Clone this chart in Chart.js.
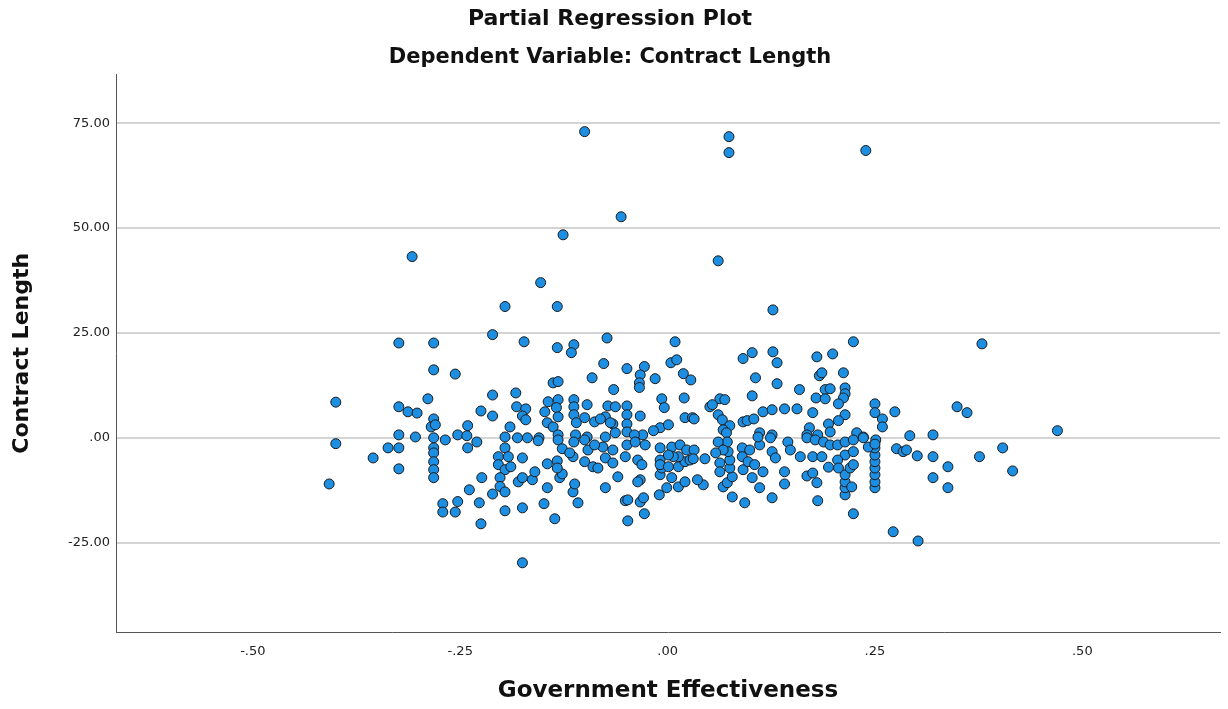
<!DOCTYPE html>
<html>
<head>
<meta charset="utf-8">
<script src="https://cdn.jsdelivr.net/npm/chart.js@4.4.1/dist/chart.umd.min.js"></script>
<style>
  body { margin: 0; background: #fff; }
  #wrap { width: 1228px; height: 709px; }
</style>
</head>
<body>
<div id="wrap"><canvas id="myChart" width="1228" height="709"></canvas></div>
<script>
// Government Effectiveness (x residual)
var govEff = [
  // left block
  -0.196,-0.211,-0.324,-0.282,-0.282,-0.256,-0.400,-0.324,-0.313,-0.302,
  -0.289,-0.211,-0.225,-0.211,-0.282,-0.285,-0.280,-0.241,-0.253,-0.242,
  -0.324,-0.304,-0.282,-0.268,-0.196,-0.190,-0.400,-0.337,-0.324,-0.355,
  -0.324,-0.408,-0.282,-0.282,-0.282,-0.282,-0.282,-0.230,-0.241,-0.196,
  -0.204,-0.192,-0.204,-0.196,-0.224,-0.202,-0.202,-0.196,-0.211,-0.239,
  -0.253,-0.227,-0.271,-0.271,-0.256,-0.196,-0.225,
  // middle, upper
  -0.133,-0.173,-0.133,-0.113,-0.116,-0.073,0.009,-0.077,-0.049,-0.028,
  -0.033,-0.034,-0.034,-0.015,0.004,0.011,0.019,0.028,-0.091,-0.138,
  -0.132,-0.065,-0.183,-0.007,0.020,-0.004,0.021,0.030,-0.033,-0.144,
  -0.132,-0.113,-0.113,-0.097,-0.182,-0.171,-0.134,-0.072,-0.063,-0.049,
  -0.049,-0.148,-0.175,-0.132,-0.113,-0.100,-0.088,-0.075,-0.081,-0.171,
  -0.145,-0.138,-0.110,-0.066,-0.069,-0.049,-0.049,-0.009,-0.017,0.001,
  -0.030,-0.040,-0.155,-0.132,-0.111,-0.097,-0.075,-0.063,
  // middle, lower
  -0.175,-0.136,-0.175,-0.149,-0.108,-0.114,-0.112,-0.145,-0.180,-0.175,
  -0.163,-0.160,-0.130,-0.127,-0.145,-0.133,-0.133,-0.175,-0.189,-0.156,
  -0.181,-0.169,-0.132,-0.127,-0.114,-0.118,-0.113,-0.100,-0.096,-0.100,
  -0.090,-0.084,-0.075,-0.066,-0.078,-0.088,-0.075,-0.060,-0.066,-0.051,
  -0.049,-0.039,-0.027,-0.036,-0.031,-0.033,-0.036,-0.051,-0.048,-0.033,
  -0.029,-0.048,-0.028,-0.010,-0.001,0.013,0.021,0.005,-0.009,-0.007,
  -0.009,-0.009,-0.009,0.001,0.013,0.021,0.027,0.005,0.015,0.023,
  0.013,0.007,0.001,
  // outliers
  -0.100,-0.056,-0.126,-0.308,-0.153,0.074,0.074,0.239,0.061,0.127,
  // right, upper
  0.224,0.091,0.102,0.127,0.132,0.180,0.199,0.183,0.186,0.212,
  0.106,0.132,0.159,0.190,0.196,0.214,0.214,0.212,0.179,0.190,
  0.102,0.063,0.069,0.051,0.054,0.115,0.126,0.141,0.156,0.175,
  0.206,0.250,0.250,0.214,0.206,0.032,0.061,0.066,0.075,0.067,
  0.071,0.091,0.096,0.104,0.171,0.194,0.196,0.111,0.126,0.228,
  0.236,0.168,0.181,
  // right, lower
  0.224,0.181,0.126,0.093,0.078,0.111,0.102,0.115,0.141,0.141,
  0.168,0.175,0.180,0.214,0.214,0.214,0.214,0.220,0.222,0.224,
  0.214,0.250,0.250,0.250,0.250,0.250,0.250,0.250,0.043,0.036,
  0.032,0.031,0.045,0.063,0.063,0.067,0.072,0.078,0.075,0.075,
  0.073,0.072,0.090,0.090,0.091,0.099,0.097,0.105,0.126,0.130,
  0.145,0.148,0.160,0.175,0.186,0.168,0.178,0.188,0.196,0.205,
  0.214,0.224,0.224,0.236,0.242,0.194,0.205,0.206,0.111,0.124,
  0.109,
  // far right
  0.379,0.259,0.259,0.274,0.349,0.361,0.470,0.292,0.320,0.276,
  0.284,0.288,0.301,0.320,0.338,0.320,0.338,0.376,0.404,0.416,
  0.272,0.302,0.251,0.250,0.061,0.067,0.058
];

// Contract Length (y residual)
var contractLen = [
  // left block
  31.3,24.6,22.6,22.6,16.2,15.2,8.5,7.4,6.2,5.9,
  9.3,10.2,6.4,5.2,4.5,2.6,3.1,2.9,0.7,0.5,
  0.7,0.2,0.0,-0.5,0.2,2.6,-1.4,-2.4,-2.4,-4.8,
  -7.4,-11.0,-2.4,-3.6,-5.7,-7.6,-9.5,-1.0,-2.4,-2.4,
  -4.5,-4.5,-6.4,-7.6,-9.5,-9.5,-11.6,-12.9,-13.4,-12.4,
  -15.2,-15.5,-15.7,-17.7,-17.7,-17.4,-20.5,
  // middle, upper
  31.3,22.9,21.5,22.2,20.3,23.8,22.9,17.7,16.5,17.0,
  15.0,13.1,12.0,14.1,17.9,18.6,15.3,13.8,14.3,13.1,
  13.4,11.5,10.7,9.3,9.5,7.2,4.8,4.8,5.2,8.6,
  9.1,9.1,7.4,7.9,7.4,6.9,7.2,7.6,7.4,7.6,
  5.5,6.2,5.2,5.0,5.5,4.8,3.8,5.0,4.5,4.3,
  3.6,2.6,3.6,3.3,3.6,3.3,1.4,2.4,1.7,3.1,
  0.7,0.7,0.0,0.7,0.7,0.2,0.2,1.2,
  // middle, lower
  -29.8,-19.3,-16.7,-15.7,-15.5,-12.9,-11.0,-11.9,-10.5,-9.5,
  -10.0,-8.1,-9.5,-8.6,-6.2,-5.5,-7.2,-4.8,-6.9,-0.7,
  0.0,0.0,-0.5,-2.6,-4.5,-3.6,-1.0,-0.5,-2.9,-5.7,
  -6.9,-7.2,-4.8,-2.9,-2.2,-1.7,-11.9,-9.3,-6.0,-4.5,
  -1.7,-1.0,-1.7,-5.3,-6.4,-10.0,-10.5,-15.0,-14.8,-15.3,
  -14.3,-19.8,-18.1,-13.6,-11.9,-11.7,-10.5,-9.5,-8.8,-7.2,
  -5.3,-2.4,-6.4,-6.9,-6.9,-5.7,-5.3,-2.2,-1.7,-2.9,
  -4.5,-4.5,-4.1,
  // outliers
  73.0,52.7,48.4,43.2,37.0,71.8,68.0,68.5,42.2,30.5,
  // right, upper
  22.9,18.9,20.3,20.5,17.9,19.3,20.0,14.8,15.5,15.5,
  14.3,12.9,11.5,11.5,11.7,11.9,10.5,9.5,9.5,9.3,
  10.0,9.3,9.1,7.4,7.9,6.2,6.7,6.9,6.9,6.0,
  8.1,8.1,6.0,5.5,4.1,4.5,5.5,4.3,2.9,1.9,
  1.2,3.8,4.1,4.5,2.4,3.3,1.4,1.2,0.7,1.2,
  0.2,0.7,0.7,
  // right, lower
  -18.1,-15.0,-14.3,-15.5,-14.1,-11.9,-9.5,-8.1,-8.1,-11.0,
  -9.1,-8.4,-10.7,-13.6,-11.9,-10.5,-8.8,-7.2,-11.7,-6.4,
  -4.1,-11.9,-10.5,-8.8,-7.2,-5.7,-4.1,-2.4,-11.2,-10.0,
  -2.9,-5.0,-5.0,-6.0,-8.1,-11.7,-10.7,-9.3,-7.2,-5.3,
  -3.3,-1.0,-2.4,-4.5,-7.6,-2.9,-5.7,-6.4,-3.3,-4.8,
  -1.0,-2.9,-4.5,-4.5,-4.5,0.0,-0.5,-1.0,-1.7,-1.7,
  -1.0,-0.5,-3.3,0.0,-2.2,-7.0,-5.3,-7.2,-1.7,0.0,
  0.2,
  // far right
  22.4,4.5,2.6,6.2,7.4,6.0,1.7,0.5,0.7,-2.6,
  -3.3,-2.9,-4.3,-4.5,-6.9,-9.5,-11.9,-4.5,-2.4,-7.9,
  -22.4,-24.6,-0.5,-1.5,-1.0,-2.9,-3.6
];

var xTicks = [-0.5, -0.25, 0, 0.25, 0.5];
var yTicks = [-25, 0, 25, 50, 75];

// SPSS style labels: ".25", "-.50", "75.00"
function spssLabel(v) {
  var s = Number(v).toFixed(2);
  return s.replace(/^(-?)0\./, '$1.');
}

var points = [];
for (var i = 0; i < govEff.length; i++) {
  points.push({ x: govEff[i], y: contractLen[i] });
}

var fontFam = "'DejaVu Sans', sans-serif";

var ctx = document.getElementById('myChart').getContext('2d');
var myChart = new Chart(ctx, {
  type: 'scatter',
  data: {
    datasets: [{
      label: 'Contract Length',
      data: points,
      backgroundColor: '#1c8fe3',
      borderColor: '#1a1a1a',
      borderWidth: 1,
      pointRadius: 5,
      pointHoverRadius: 5
    }]
  },
  options: {
    responsive: false,
    animation: false,
    layout: { padding: { left: 0, right: 8, top: 0, bottom: 0 } },
    plugins: {
      legend: { display: false },
      tooltip: { enabled: false },
      title: {
        display: true,
        text: 'Partial Regression Plot',
        color: '#111',
        font: { family: fontFam, size: 22, weight: 'bold' },
        padding: { top: 6, bottom: 6 }
      },
      subtitle: {
        display: true,
        text: 'Dependent Variable: Contract Length',
        color: '#111',
        font: { family: fontFam, size: 21, weight: 'bold' },
        padding: { top: 7, bottom: 4 }
      }
    },
    scales: {
      x: {
        type: 'linear',
        position: 'bottom',
        min: -0.665,
        max: 0.666,
        afterBuildTicks: function (scale) {
          scale.ticks = xTicks.map(function (v) { return { value: v }; });
        },
        afterFit: function (scale) { scale.height = 77; },
        grid: { display: false, drawTicks: false },
        border: { display: true, color: '#555', width: 1 },
        ticks: {
          padding: 12,
          color: '#222',
          font: { family: fontFam, size: 13 },
          callback: function (v) { return spssLabel(v); }
        },
        title: {
          display: true,
          text: 'Government Effectiveness',
          color: '#111',
          font: { family: fontFam, size: 23, weight: 'bold' },
          padding: { top: 0, bottom: 4 }
        }
      },
      y: {
        type: 'linear',
        position: 'left',
        min: -46.3,
        max: 86.6,
        afterBuildTicks: function (scale) {
          scale.ticks = yTicks.map(function (v) { return { value: v }; });
        },
        afterFit: function (scale) { scale.width = 116; },
        grid: { display: true, drawTicks: false, color: '#d4d4d4', lineWidth: 2 },
        border: { display: true, color: '#555', width: 1 },
        ticks: {
          padding: 6,
          color: '#222',
          font: { family: fontFam, size: 13 },
          callback: function (v) { return spssLabel(v); }
        },
        title: {
          display: true,
          text: 'Contract Length',
          color: '#111',
          font: { family: fontFam, size: 22, weight: 'bold' },
          padding: { top: 9, bottom: 0 }
        }
      }
    }
  }
});
</script>
</body>
</html>
